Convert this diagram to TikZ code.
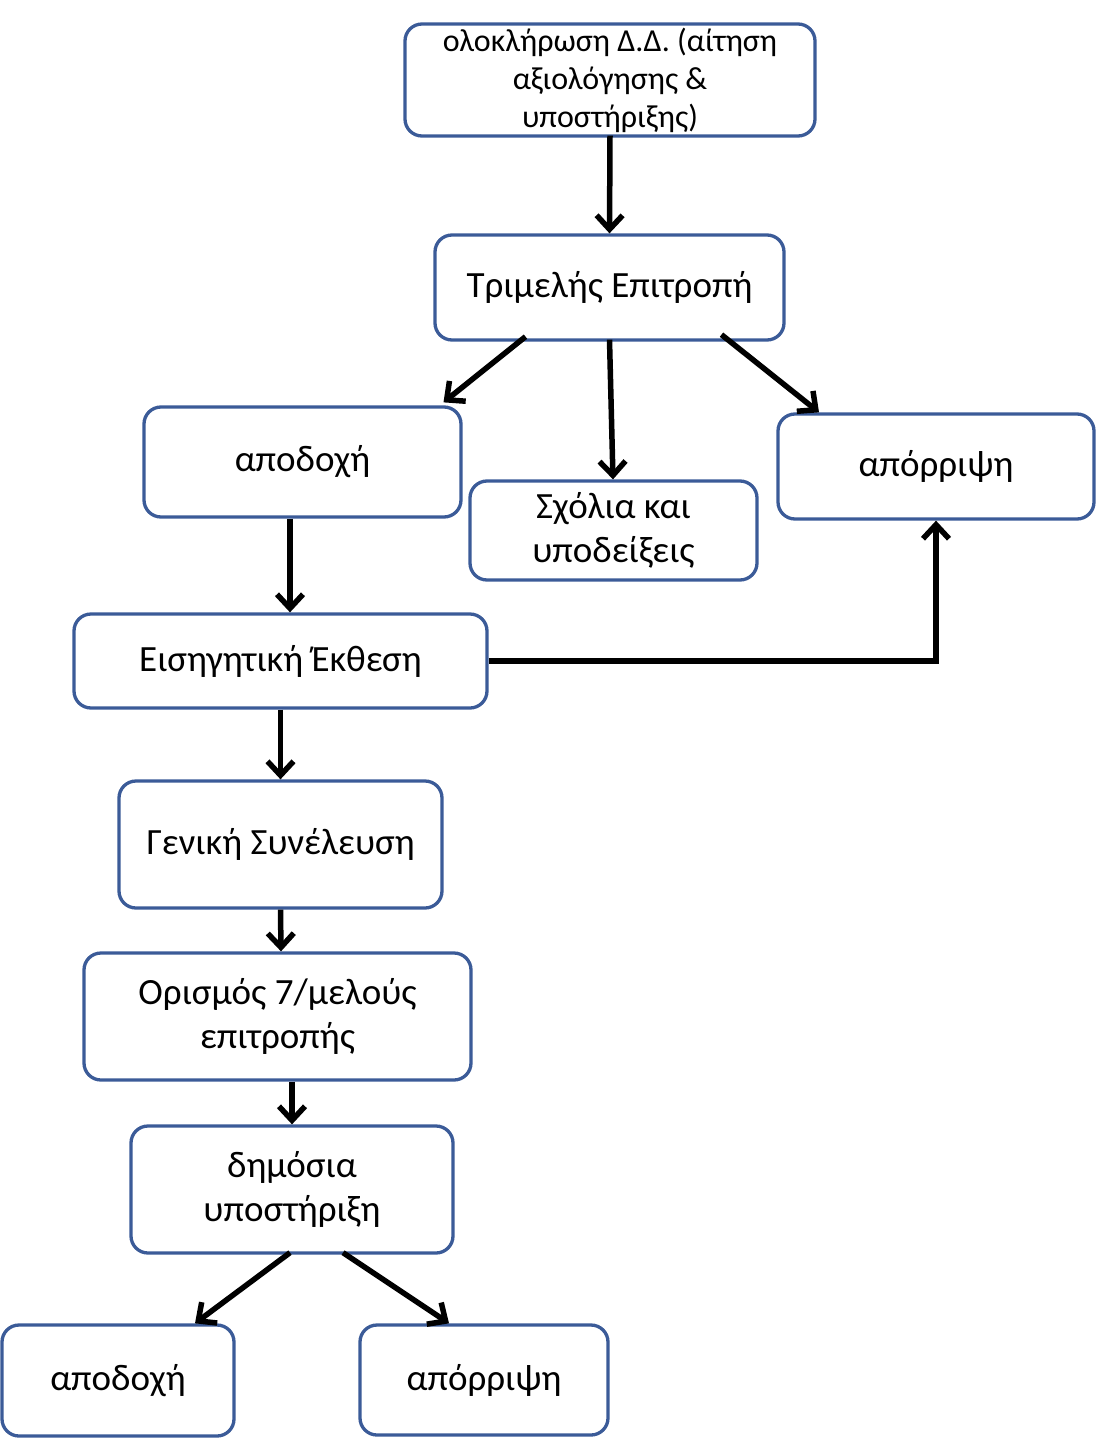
\documentclass[tikz,border=0pt]{standalone}
\usepackage{fontspec}
\setmainfont{Carlito}
\usetikzlibrary{arrows.meta,calc}
\definecolor{bordc}{HTML}{3B5B98}
\begin{document}
\begin{tikzpicture}[x=1pt,y=-1pt,
  box/.style={draw=bordc,line width=3.3pt,rounded corners=17pt,fill=white,align=center,inner sep=0pt,font=\fontsize{37}{44}\selectfont},
  arr/.style={line width=5.5pt,-{Straight Barb[length=14pt,width=26pt,line width=5.5pt]}}]
\useasboundingbox (0,0) rectangle (1096,1440);
\node[box,minimum width=410pt,minimum height=112pt,font=\fontsize{32}{38}\selectfont] (top) at (610,80) {ολοκλήρωση Δ.Δ. (αίτηση\\αξιολόγησης \&\\υποστήριξης)};
\node[box,minimum width=349pt,minimum height=105pt] (tri) at (609.5,287.5) {Τριμελής Επιτροπή};
\node[box,minimum width=317pt,minimum height=110pt] (acc1) at (302.5,462) {αποδοχή};
\node[box,minimum width=287pt,minimum height=99pt] (com) at (613.5,530.5) {Σχόλια και\\υποδείξεις};
\node[box,minimum width=316pt,minimum height=105pt] (rej1) at (936,466.5) {απόρριψη};
\node[box,minimum width=413pt,minimum height=94pt] (eis) at (280.5,661) {Εισηγητική Έκθεση};
\node[box,minimum width=323pt,minimum height=127pt] (gen) at (280.5,844.5) {Γενική Συνέλευση};
\node[box,minimum width=387pt,minimum height=127pt] (ori) at (277.5,1016.5) {Ορισμός 7/μελούς\\επιτροπής};
\node[box,minimum width=322pt,minimum height=127pt] (dim) at (292,1189.5) {δημόσια\\υποστήριξη};
\node[box,minimum width=232pt,minimum height=111pt] (acc2) at (118,1380.5) {αποδοχή};
\node[box,minimum width=248pt,minimum height=110pt] (rej2) at (484,1380) {απόρριψη};
\draw[arr] ([yshift=2pt]top.south) -- (tri.north);
\draw[arr] ([xshift=-84pt,yshift=5pt]tri.south) -- ([xshift=141pt,yshift=3pt]acc1.north);
\draw[arr] ([yshift=2pt]tri.south) -- ([xshift=-0.5pt]com.north);
\draw[arr] ([xshift=112pt,yshift=7pt]tri.south) -- ([xshift=-117pt]rej1.north);
\draw[arr] ([xshift=-12.5pt]acc1.south) -- ([xshift=9.5pt]eis.north);
\draw[arr] (eis.east) -| (rej1.south);
\draw[arr] (eis.south) -- (gen.north);
\draw[arr] (gen.south) -- ([xshift=3.5pt]ori.north);
\draw[arr] ([xshift=14.5pt]ori.south) -- (dim.north);
\draw[arr] ([xshift=-2pt,yshift=2pt]dim.south) -- ([xshift=77pt]acc2.north);
\draw[arr] ([xshift=51pt,yshift=2pt]dim.south) -- ([xshift=-35pt]rej2.north);
\end{tikzpicture}
\end{document}
